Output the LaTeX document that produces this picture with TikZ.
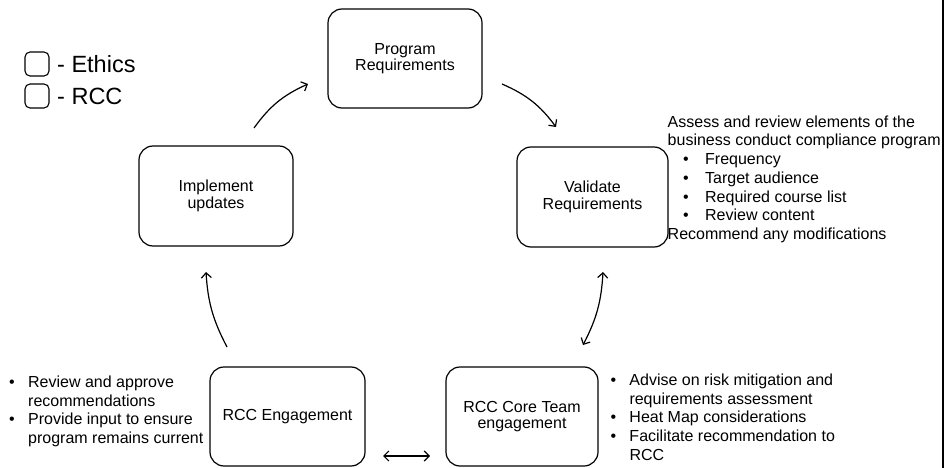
\documentclass[tikz,border=0pt]{standalone}
\usepackage{fontspec}
\setmainfont{Liberation Sans}
\usetikzlibrary{arrows.meta}

\newcommand\bodyfont{\fontsize{16}{18.7}\selectfont}
\newcommand\boxfont{\fontsize{16}{16.3}\selectfont}
% bullet item: bullet at the left, text after a fixed gap
\newcommand\itm[2]{\makebox[#1][l]{\textbullet}#2}

\tikzset{
  stepbox/.style={draw, line width=1.2pt, rounded corners=14pt,
    minimum width=154pt, minimum height=99pt, align=center,
    font=\boxfont, inner sep=2pt},
  legendbox/.style={draw, line width=1.1pt, rounded corners=5pt,
    minimum width=24pt, minimum height=24pt, inner sep=0pt},
  note/.style={anchor=base west, inner sep=0pt, font=\bodyfont},
  flow/.style={line width=1.2pt, -{Straight Barb[length=5pt,width=10pt]}},
  twoway/.style={line width=1.2pt, {Straight Barb[length=5pt,width=10pt]}-{Straight Barb[length=5pt,width=10pt]}},
}

\begin{document}
\begin{tikzpicture}[x=1pt, y=-1pt]
\useasboundingbox (0,0) rectangle (945,468);

% legend
\node[legendbox] (lgE) at (37,64) {};
\node[legendbox] (lgR) at (37,96) {};
\node[anchor=west, inner sep=0pt, font=\fontsize{23.5}{26}\selectfont] (lgEt) at (57,64) {- Ethics};
\node[anchor=west, inner sep=0pt, font=\fontsize{23.5}{26}\selectfont] (lgRt) at (57,96) {- RCC};

% process steps
\node[stepbox] (prog) at (405,58.5) {Program\\Requirements};
\node[stepbox, minimum width=151pt, minimum height=100pt] (valid) at (592.5,197) {Validate\\Requirements};
\node[stepbox, minimum height=100pt] (impl) at (216,196) {Implement\\updates};
\node[stepbox, minimum width=155pt] (eng) at (287.5,416.5) {RCC Engagement};
\node[stepbox, minimum width=152pt] (core) at (522,416.5) {RCC Core Team\\engagement};

% cycle connectors (floating between the boxes)
\coordinate (a1s) at (502,84);  \coordinate (a1e) at (556,127);
\coordinate (a2s) at (254,128); \coordinate (a2e) at (308,84);
\coordinate (a3s) at (227,347); \coordinate (a3e) at (206,272);
\coordinate (a4s) at (603,272); \coordinate (a4e) at (583,345);
\coordinate (a5s) at (383,456); \coordinate (a5e) at (430,456);

\draw[flow] (a1s) to[bend left=15] (a1e);
\draw[flow] (a2s) to[bend left=15] (a2e);
\draw[flow] (a3s) to[bend left=12] (a3e);
\draw[twoway] (a4s) to[bend left=12] (a4e);
\draw[twoway] (a5s) -- (a5e);

% notes
\node[note] (nValid) at (667.5,127.3) {\begin{tabular}[t]{@{}l@{}}
Assess and review elements of the\\
business conduct compliance program\\
\hspace*{15.5pt}\itm{22pt}{Frequency}\\
\hspace*{15.5pt}\itm{22pt}{Target audience}\\
\hspace*{15.5pt}\itm{22pt}{Required course list}\\
\hspace*{15.5pt}\itm{22pt}{Review content}\\
Recommend any modifications
\end{tabular}};

\node[note] (nEng) at (9,387.5) {\begin{tabular}[t]{@{}l@{}}
\itm{19pt}{Review and approve}\\
\hspace*{19pt}recommendations\\
\itm{19pt}{Provide input to ensure}\\
\hspace*{19pt}program remains current
\end{tabular}};

\node[note] (nCore) at (610.3,385.5) {\begin{tabular}[t]{@{}l@{}}
\itm{19pt}{Advise on risk mitigation and}\\
\hspace*{19pt}requirements assessment\\
\itm{19pt}{Heat Map considerations}\\
\itm{19pt}{Facilitate recommendation to}\\
\hspace*{19pt}RCC
\end{tabular}};

% right-hand border
\coordinate (rt) at (942.5,0);
\coordinate (rb) at (942.5,468);
\draw[line width=2pt] (rt) -- (rb);
\end{tikzpicture}
\end{document}
